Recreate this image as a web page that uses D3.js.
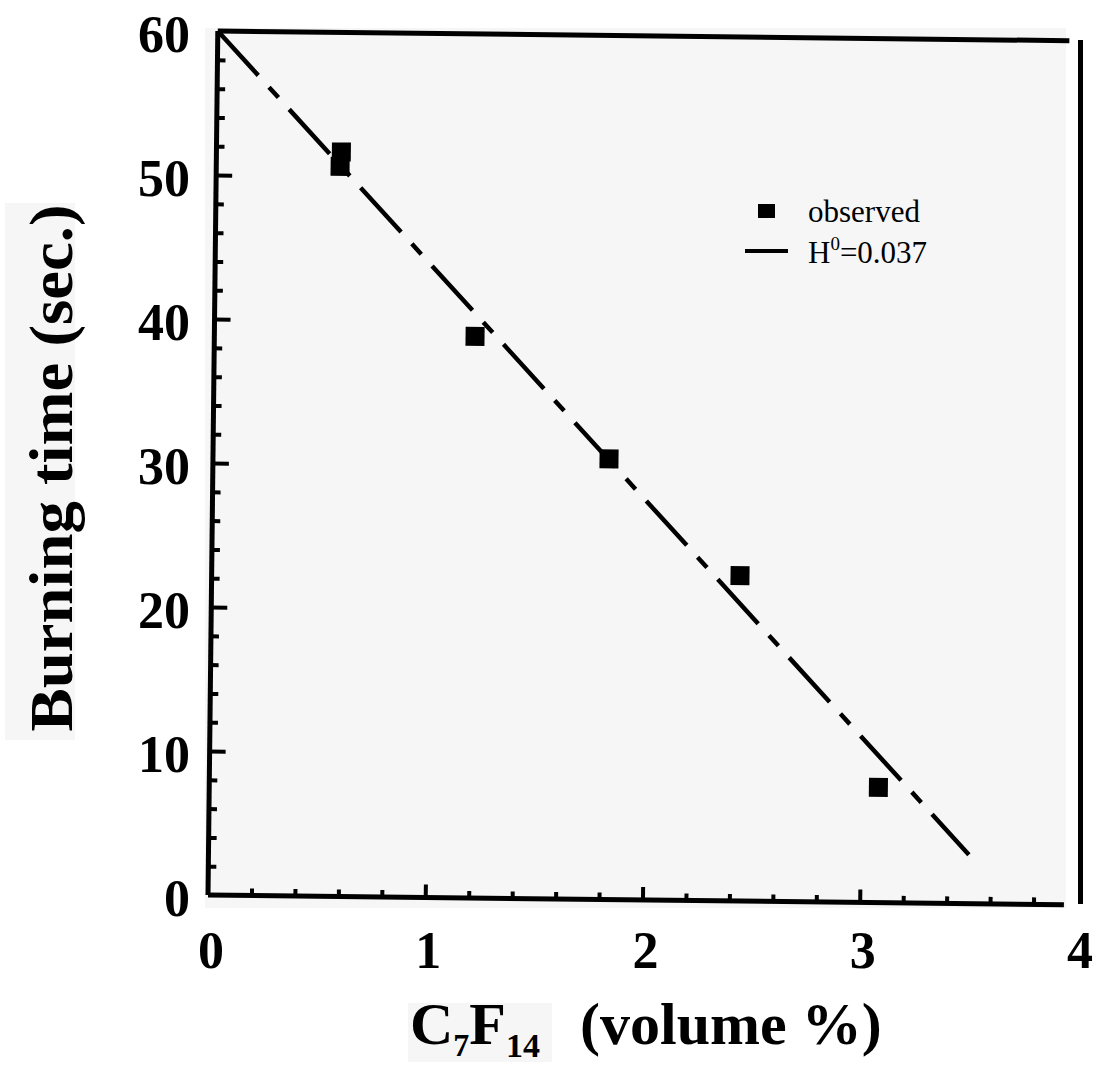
<!DOCTYPE html>
<html>
<head>
<meta charset="utf-8">
<script src="https://cdn.jsdelivr.net/npm/d3@7"></script>
<style>
  html, body { margin: 0; padding: 0; background: #fff; }
  svg { display: block; }
</style>
</head>
<body>
<svg id="chart" width="1097" height="1066"></svg>
<script>
// ---- data ----
const xTickValues = [0, 1, 2, 3, 4];
const xTickLabels = ["0", "1", "2", "3", "4"];
const yTickValues = [0, 10, 20, 30, 40, 50, 60];
const yTickLabels = ["0", "10", "20", "30", "40", "50", "60"];
const obsX = [0.575, 0.57, 1.20, 1.823, 2.432, 3.08];
const obsY = [51.7, 50.7, 39.0, 30.6, 22.6, 8.0];
const fitX = [0, 3.5];
const fitY = [60, 3.4];
const legendNames = ["observed", "H", "0", "=0.037"];
const xTitleParts = ["C", "7", "F", "14", "(volume %)"];
const yTitle = "Burning time (sec.)";

// ---- setup ----
const svg = d3.select("#chart");
const serif = "'Liberation Serif', 'Times New Roman', serif";
const x = d3.scaleLinear().domain([0, 4]).range([208, 1077]);
const y = d3.scaleLinear().domain([0, 60]).range([895, 31]);

// light scan-like background panels
svg.append("rect").attr("x", 205).attr("y", 28).attr("width", 861).attr("height", 880).attr("fill", "#f6f6f6");
svg.append("rect").attr("x", 5).attr("y", 203).attr("width", 70).attr("height", 537).attr("fill", "#f6f6f6");
svg.append("rect").attr("x", 408).attr("y", 1003).attr("width", 144).attr("height", 59).attr("fill", "#f6f6f6");

// plot group (slightly rotated like the scan)
const g = svg.append("g").attr("transform", "rotate(0.65," + x(0) + "," + y(0) + ")");

// axes ticks via d3 axes
const minorX = d3.range(0, 3.81, 0.2).filter(v => Math.abs(v - Math.round(v)) > 1e-6);
const majorX = xTickValues.filter(v => v > 0 && v < 4);
const minorY = d3.range(2, 59, 2).filter(v => v % 10 !== 0);
const majorY = yTickValues.filter(v => v > 0 && v < 60);

function styleAxis(sel, w) {
  sel.select(".domain").remove();
  sel.selectAll(".tick text").remove();
  sel.selectAll(".tick line").attr("stroke", "#000").attr("stroke-width", w);
}
g.append("g").attr("transform", `translate(0,${y(0)})`)
  .call(d3.axisBottom(x).tickValues(minorX).tickSize(-7).tickSizeOuter(0)).call(s => styleAxis(s, 4));
g.append("g").attr("transform", `translate(0,${y(0)})`)
  .call(d3.axisBottom(x).tickValues(majorX).tickSize(-13).tickSizeOuter(0)).call(s => styleAxis(s, 4));
g.append("g").attr("transform", `translate(${x(0)},0)`)
  .call(d3.axisLeft(y).tickValues(minorY).tickSize(-8).tickSizeOuter(0)).call(s => styleAxis(s, 4));
g.append("g").attr("transform", `translate(${x(0)},0)`)
  .call(d3.axisLeft(y).tickValues(majorY).tickSize(-16).tickSizeOuter(0)).call(s => styleAxis(s, 4));

// frame lines
const line = d3.line().x(d => x(d[0])).y(d => y(d[1]));
g.append("path").attr("d", line([[0, 0], [3.94, 0]])).attr("stroke", "#000").attr("stroke-width", 5).attr("fill", "none");
g.append("path").attr("d", line([[0, 0], [0, 60]])).attr("stroke", "#000").attr("stroke-width", 5).attr("fill", "none");
g.append("path").attr("d", line([[0, 60], [3.92, 60]])).attr("stroke", "#000").attr("stroke-width", 5).attr("fill", "none");

// fitted line
g.append("path").attr("d", line(fitX.map((v, i) => [v, fitY[i]])))
  .attr("stroke", "#000").attr("stroke-width", 4.5).attr("fill", "none")
  .attr("stroke-dasharray", "60,16,14,16");

// observed squares
const sq = 19;
g.selectAll("rect.obs").data(obsX.map((v, i) => [v, obsY[i]])).enter()
  .append("rect").attr("class", "obs")
  .attr("x", d => x(d[0]) - sq / 2).attr("y", d => y(d[1]) - sq / 2)
  .attr("width", sq).attr("height", sq).attr("fill", "#000");

// right border line (separate, upright)
svg.append("line").attr("x1", 1080.5).attr("x2", 1080.5).attr("y1", 40).attr("y2", 904)
  .attr("stroke", "#000").attr("stroke-width", 5);

// legend
svg.append("rect").attr("x", 758).attr("y", 204).attr("width", 17).attr("height", 14).attr("fill", "#000");
svg.append("text").attr("x", 808).attr("y", 222).attr("font-family", serif).attr("font-size", 31)
  .text(legendNames[0]);
svg.append("line").attr("x1", 745).attr("x2", 788).attr("y1", 251).attr("y2", 251)
  .attr("stroke", "#000").attr("stroke-width", 4);
const lt = svg.append("text").attr("x", 808).attr("y", 263).attr("font-family", serif).attr("font-size", 31);
lt.append("tspan").text(legendNames[1]);
lt.append("tspan").attr("font-size", 19).attr("dy", -13).text(legendNames[2]);
lt.append("tspan").attr("dy", 13).text(legendNames[3]);

// tick labels
svg.selectAll("text.xl").data(xTickValues).enter().append("text").attr("class", "xl")
  .attr("x", d => x(d) + 3).attr("y", 968).attr("text-anchor", "middle")
  .attr("font-family", serif).attr("font-weight", "bold").attr("font-size", 52)
  .text((d, i) => xTickLabels[i]);
svg.selectAll("text.yl").data(yTickValues).enter().append("text").attr("class", "yl")
  .attr("x", 190).attr("y", d => y(d) + 21).attr("text-anchor", "end")
  .attr("font-family", serif).attr("font-weight", "bold").attr("font-size", 52)
  .text((d, i) => yTickLabels[i]);

// axis titles
const xt = svg.append("text").attr("x", 410).attr("y", 1044)
  .attr("font-family", serif).attr("font-weight", "bold").attr("font-size", 60);
xt.append("tspan").text(xTitleParts[0]);
xt.append("tspan").attr("font-size", 32).attr("dy", 12).text(xTitleParts[1]);
xt.append("tspan").attr("dy", -12).text(xTitleParts[2]);
xt.append("tspan").attr("font-size", 34).attr("dy", 13).text(xTitleParts[3]);
xt.append("tspan").attr("x", 580).attr("dy", -13).text(xTitleParts[4]);

svg.append("text").attr("transform", "translate(72,468) rotate(-90)")
  .attr("text-anchor", "middle").attr("font-family", serif).attr("font-weight", "bold")
  .attr("font-size", 62).attr("textLength", 527).attr("lengthAdjust", "spacingAndGlyphs")
  .text(yTitle);
</script>
</body>
</html>
